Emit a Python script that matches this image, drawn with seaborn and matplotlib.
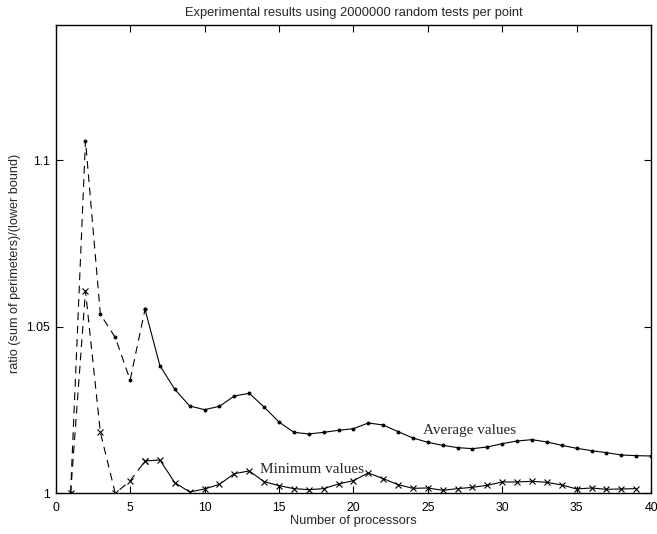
import numpy as np
import pandas as pd
import matplotlib
matplotlib.use("Agg")
import matplotlib.pyplot as plt
import seaborn as sns

# values
processors = list(range(1, 41))
average_values = [1.0, 1.1058, 1.0537, 1.0468, 1.0340, 1.0552, 1.0383, 1.0312, 1.0262, 1.0251,
                  1.0261, 1.0292, 1.0300, 1.0259, 1.0214, 1.0183, 1.0178, 1.0183, 1.0189, 1.0194,
                  1.0211, 1.0205, 1.0185, 1.0166, 1.0153, 1.0144, 1.0137, 1.0134, 1.0139, 1.0149,
                  1.0157, 1.0161, 1.0154, 1.0144, 1.0135, 1.0128, 1.0122, 1.0115, 1.0113, 1.0112]
minimum_values = [1.0, 1.0607, 1.0183, 1.0, 1.0037, 1.0097, 1.0100, 1.0032, 1.0004, 1.0013,
                  1.0027, 1.0059, 1.0067, 1.0035, 1.0023, 1.0014, 1.0011, 1.0014, 1.0028, 1.0038,
                  1.0061, 1.0044, 1.0026, 1.0015, 1.0016, 1.0009, 1.0014, 1.0018, 1.0024, 1.0034,
                  1.0034, 1.0036, 1.0033, 1.0025, 1.0013, 1.0016, 1.0012, 1.0013, 1.0014]
x_ticks = [0, 5, 10, 15, 20, 25, 30, 35, 40]
y_ticks = [1.0, 1.05, 1.1]
y_tick_labels = ["1", "1.05", "1.1"]

avg_df = pd.DataFrame({"n": processors, "ratio": average_values})
min_df = pd.DataFrame({"n": processors[:len(minimum_values)], "ratio": minimum_values})

sns.set_style("ticks")
plt.rcParams["font.family"] = ["Liberation Sans", "DejaVu Sans"]

fig = plt.figure(figsize=(6.57, 5.34), dpi=100)
ax = fig.add_axes([0.0848, 0.0762, 0.9062, 0.8775])

dash = (0, (7, 5))
for df, mk, ms in [(avg_df, ".", 4), (min_df, "x", 4.5)]:
    # first part (up to 6 processors) drawn dashed, the rest solid
    first = df[df["n"] <= 6]
    rest = df[df["n"] >= 6]
    sns.lineplot(data=first, x="n", y="ratio", ax=ax, color="black", lw=0.8,
                 linestyle=dash, marker=mk, markersize=ms, mew=0.8, mfc="black", mec="black")
    sns.lineplot(data=rest, x="n", y="ratio", ax=ax, color="black", lw=0.8,
                 marker=mk, markersize=ms, mew=0.8, mfc="black", mec="black")

ax.text(24.7, 1.0187, "Average values", family="Liberation Serif", fontsize=11, va="center", ha="left")
ax.text(13.74, 1.0070, "Minimum values", family="Liberation Serif", fontsize=11, va="center", ha="left")

ax.set_xlim(0, 40)
ax.set_ylim(1.0, 1.1406)
ax.set_xticks(x_ticks)
ax.set_xticklabels([str(t) for t in x_ticks])
ax.set_yticks(y_ticks)
ax.set_yticklabels(y_tick_labels)
ax.tick_params(direction="in", length=5, width=0.8, top=True, right=True, labelsize=8.8, colors="black")
ax.tick_params(axis="x", pad=6)
ax.tick_params(axis="y", pad=4)
for s in ax.spines.values():
    s.set_visible(True)
    s.set_linewidth(1.0)
    s.set_color("black")

ax.set_title("Experimental results using 2000000 random tests per point", fontsize=9.3, pad=6)
ax.set_xlabel("Number of processors", fontsize=9.3, labelpad=1)
ax.set_ylabel("ratio (sum of perimeters)/(lower bound)", fontsize=9.1, labelpad=4)
ax.yaxis.set_label_coords(-0.0585, 0.49)

fig.savefig("out.png", dpi=100)
